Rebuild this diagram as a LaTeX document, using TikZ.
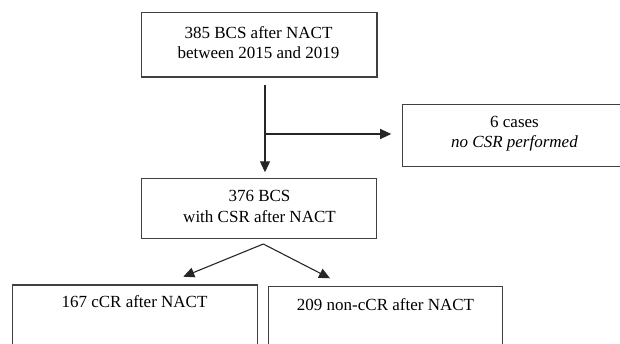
\documentclass[tikz,border=0pt]{standalone}
\usepackage{fontspec}
\setmainfont{Liberation Serif}
\usetikzlibrary{arrows.meta}
\begin{document}
\begin{tikzpicture}[x=1pt,y=-1pt,
  box/.style={draw=black!75, line width=1.2pt, inner sep=0pt, outer sep=0pt, anchor=north west},
  txt/.style={inner sep=0pt, align=center, font=\fontsize{17}{20.5}\selectfont},
  conn/.style={draw=black!85, line width=1.1pt},
  arr/.style={conn, -{Triangle[length=11pt,width=10pt]}}]
\useasboundingbox (0,0) rectangle (620,344);
% boxes
\node[box, minimum width=235.3pt, minimum height=64.3pt] (b1) at (141.7,12.7) {};
\node[box, minimum width=222.3pt, minimum height=62.4pt] (b6) at (402.7,104.3) {};
\node[box, minimum width=235pt, minimum height=60pt] (b2) at (141.7,178.3) {};
\node[box, minimum width=245pt, minimum height=80pt] (b3) at (12.7,285) {};
\node[box, minimum width=234.5pt, minimum height=80pt] (b4) at (268.3,286.7) {};
% texts
\node[txt] (t1) at (258.5,42.5) {385 BCS after NACT\\between 2015 and 2019};
\node[txt] (t6) at (514.5,133.5) {6 cases\\\itshape no CSR performed};
\node[txt] (t2) at (259.5,206.7) {376 BCS\\with CSR after NACT};
\node[txt] (t3) at (134.5,302) {167 cCR after NACT};
\node[txt] (t4) at (385.5,304.7) {209 non-cCR after NACT};
% connectors
\coordinate (v0) at (265,85);
\coordinate (br) at (265,134);
\coordinate (ap) at (263.3,244);
\coordinate (lt) at (183.3,276.7);
\coordinate (rt) at (330,278.3);
\draw[arr, shorten >=6pt] (v0) -- (v0 |- b2.north);
\draw[arr, shorten >=11.5pt] (br) -- (br -| b6.west);
\draw[arr] (ap) -- (lt);
\draw[arr] (ap) -- (rt);
\end{tikzpicture}
\end{document}
